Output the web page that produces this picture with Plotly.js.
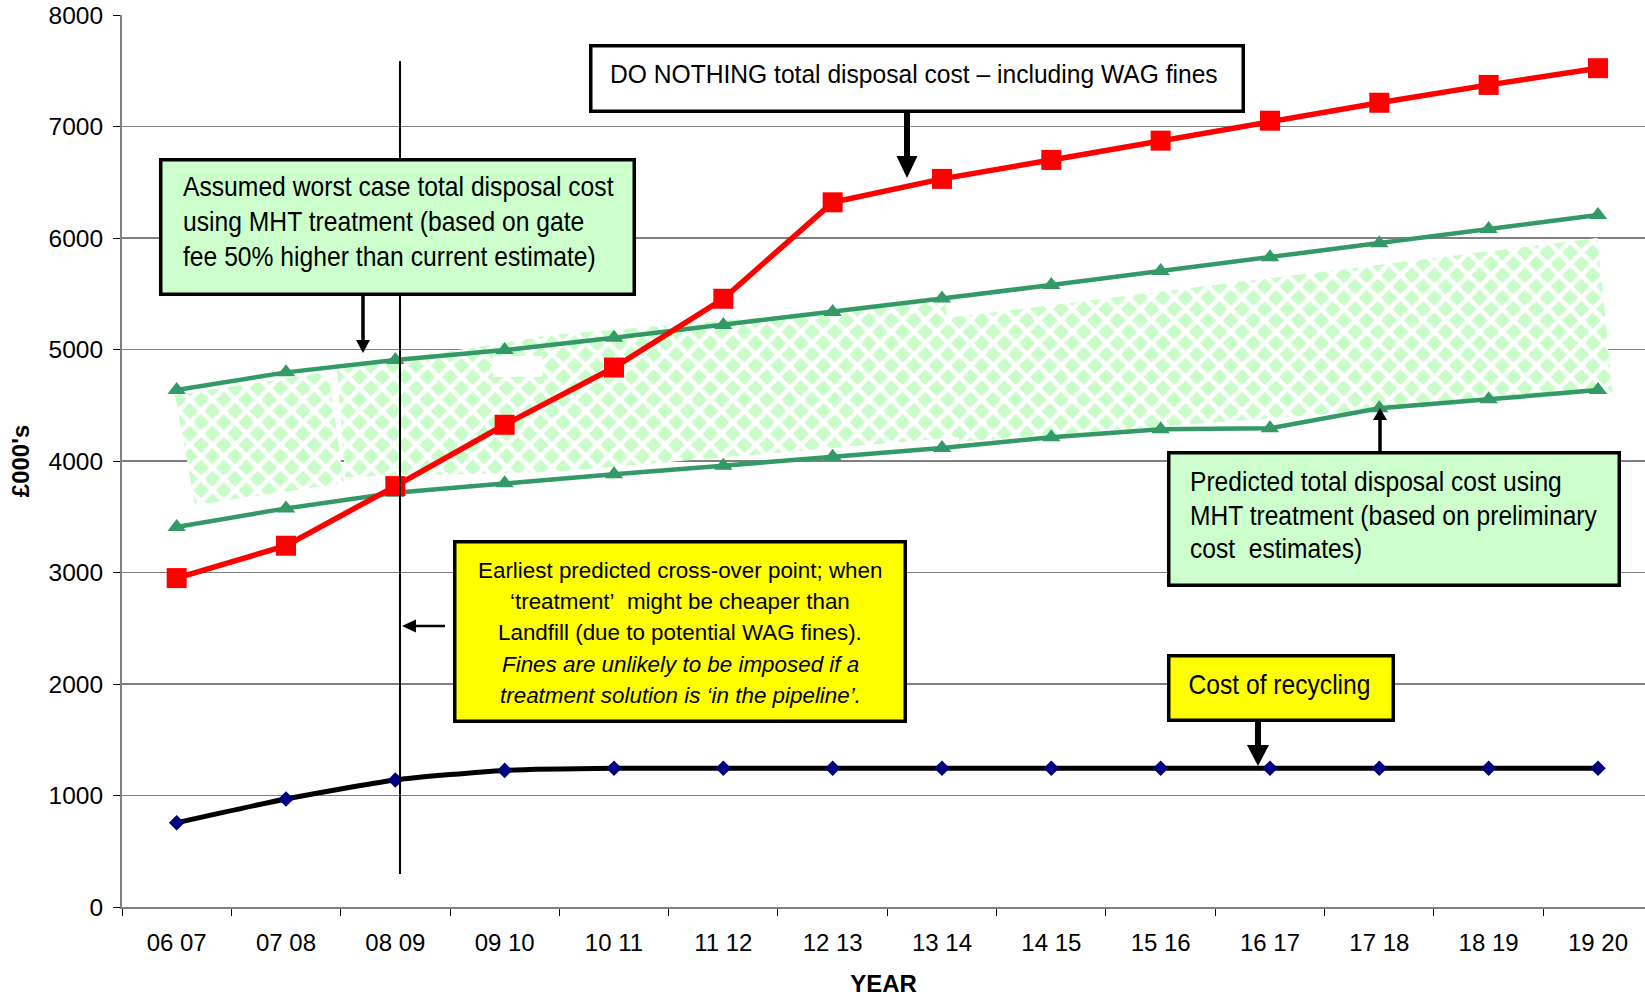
<!DOCTYPE html>
<html>
<head>
<meta charset="utf-8">
<script src="https://cdn.plot.ly/plotly-3.0.1.min.js"></script>
<style>html,body{margin:0;padding:0;background:#fff;}#chart{width:1645px;height:1000px;}</style>
</head>
<body>
<div id="chart"></div>
<script>
// ---------- data ----------
const categories = ["06 07","07 08","08 09","09 10","10 11","11 12","12 13","13 14","14 15","15 16","16 17","17 18","18 19","19 20"];
const doNothing  = [2950, 3240, 3775, 4325, 4838, 5455, 6320, 6530, 6700, 6873, 7052, 7213, 7373, 7523];
const worstCase  = [4637, 4795, 4905, 4995, 5105, 5220, 5337, 5458, 5578, 5704, 5827, 5952, 6081, 6206];
const predicted  = [3408, 3575, 3715, 3800, 3882, 3958, 4039, 4117, 4212, 4284, 4293, 4473, 4553, 4637];
const recycling  = [756, 969, 1139, 1225, 1244, 1244, 1244, 1244, 1244, 1244, 1244, 1244, 1244, 1244];
const yTicks = [0,1000,2000,3000,4000,5000,6000,7000,8000];

// hatched "range" band, drawn as free-hand pieces (x in category index, y in £000's)
const bandA_x = [-0.015, 1.385, 1.531, 0.168];
const bandA_y = [4592, 4798, 3803, 3606];
const bandB_x = [1.467, 3.324, 3.443, 1.540];
const bandB_y = [4825, 5112, 3902, 3857];
const bandC_x = [3.324, 7.030, 7.167, 3.443];
const bandC_y = [5121, 5426, 4215, 3902];
const bandD_x = [7.048, 12.995, 13.132, 7.158];
const bandD_y = [5283, 6000, 4619, 4171];
const gap_x = [2.894, 3.343, 3.343, 2.894];
const gap_y = [4942, 4942, 4754, 4754];

// annotation texts
const box1Lines = ['Assumed worst case total disposal cost', 'using MHT treatment (based on gate', 'fee 50% higher than current estimate)'];
const box2Lines = ['DO NOTHING total disposal cost \u2013 including WAG fines'];
const box3Lines = ['Earliest predicted cross-over point; when', '\u2018treatment\u2019&nbsp; might be cheaper than', 'Landfill (due to potential WAG fines).',
                   '<i>Fines are unlikely to be imposed if a</i>', '<i>treatment solution is \u2018in the pipeline\u2019.</i>'];
const box4Lines = ['Predicted total disposal cost using', 'MHT treatment (based on preliminary', 'cost&nbsp; estimates)'];
const box5Lines = ['Cost of recycling'];

const xIdx = categories.map((_, i) => i);
const boundaries = categories.map((_, i) => i - 0.5).concat([categories.length - 0.5]);

const arial = '"Liberation Sans", Arial, sans-serif';

function close(a){ return a.concat([a[0]]); }
const hatch = {shape:'x', fgcolor:'#ffffff', bgcolor:'#c8fcc8', size:16, solidity:0.5};
function bandTrace(xs, ys, white){
  const t = {x: close(xs), y: close(ys), mode:'lines', fill:'toself', line:{width:0, color:'rgba(0,0,0,0)'},
             hoverinfo:'skip', showlegend:false};
  if (white) t.fillcolor = '#ffffff'; else { t.fillcolor = '#c8fcc8'; t.fillpattern = hatch; }
  return t;
}

const traces = [
  bandTrace(bandA_x, bandA_y), bandTrace(bandB_x, bandB_y), bandTrace(bandC_x, bandC_y),
  bandTrace(bandD_x, bandD_y), bandTrace(gap_x, gap_y, true),
  {x:xIdx, y:worstCase, mode:'lines+markers', name:'Worst case MHT', line:{color:'#339966', width:4.5},
   marker:{symbol:'triangle-up', size:16, color:'#339966'}},
  {x:xIdx, y:predicted, mode:'lines+markers', name:'Predicted MHT', line:{color:'#339966', width:4.5},
   marker:{symbol:'triangle-up', size:16, color:'#339966'}},
  {x:xIdx, y:recycling, mode:'lines+markers', name:'Recycling', line:{color:'#000000', width:5, shape:'spline', smoothing:0.6},
   marker:{symbol:'diamond', size:12, color:'#000080'}},
  {x:xIdx, y:doNothing, mode:'lines+markers', name:'Do nothing', line:{color:'#ff0000', width:5.5},
   marker:{symbol:'square', size:20, color:'#ff0000'}}
];

// ---------- geometry helpers (pixel -> data for decorations) ----------
const W = 1645, H = 1000, mL = 122, mR = 0, mT = 15, mB = 93;
const xRange = [-0.5, 13.43], yRange = [0, 8000];
const xPerPx = (xRange[1]-xRange[0])/(W-mL-mR);
const yPerPx = (yRange[1]-yRange[0])/(H-mT-mB);
const px2x = p => xRange[0] + (p - mL)*xPerPx;
const px2y = p => yRange[1] - (p - mT)*yPerPx;

const shapes = [];
// cross-over marker line
shapes.push({type:'line', xref:'x', yref:'y', x0:px2x(400), x1:px2x(400), y0:px2y(874), y1:px2y(61), line:{color:'#000', width:2}, layer:'above'});

// text boxes (pixel extents incl. border)
const boxes = [
  {l:159, t:158, r:636, b:296, fill:'#ccffcc'},
  {l:589, t:44, r:1245, b:113, fill:'#ffffff'},
  {l:453, t:540, r:907, b:723, fill:'#ffff00'},
  {l:1167, t:451, r:1621, b:587, fill:'#ccffcc'},
  {l:1167, t:654, r:1395, b:722, fill:'#ffff00'}
];
const bw = 3.5;
boxes.forEach(b => shapes.push({type:'rect', xref:'x', yref:'y',
  x0:px2x(b.l + bw/2), x1:px2x(b.r - bw/2), y0:px2y(b.b - bw/2), y1:px2y(b.t + bw/2),
  fillcolor:b.fill, line:{color:'#000', width:bw}, layer:'above'}));

// arrows: tail, tip (pixels), head width/length (px), stem width (px)
const arrows = [
  {x0:363, y0:296, x1:363, y1:353, hw:14, hl:13, sw:3.5},
  {x0:907, y0:113, x1:907, y1:178, hw:21, hl:22, sw:6},
  {x0:1258, y0:722, x1:1258, y1:766, hw:22, hl:21, sw:6},
  {x0:1380, y0:451, x1:1380, y1:408, hw:14, hl:12, sw:3.5},
  {x0:445, y0:626, x1:402, y1:626, hw:13, hl:14, sw:2.5}
];
arrows.forEach(a => {
  const dx = a.x1-a.x0, dy = a.y1-a.y0; // screen px (y down)
  const len = Math.hypot(dx, dy), ux = dx/len, uy = dy/len;
  const bx = a.x1 - ux*(a.hl-1), by = a.y1 - uy*(a.hl-1);
  shapes.push({type:'line', xref:'x', yref:'y', x0:px2x(a.x0), y0:px2y(a.y0), x1:px2x(bx), y1:px2y(by), line:{color:'#000', width:a.sw}, layer:'above'});
  // triangle in pixel units around tip (pixel sizemode: y positive up)
  const ux2 = ux, uy2 = -uy;
  const pxp = -uy2, pyp = ux2;
  const b1x = -ux2*a.hl + pxp*a.hw/2, b1y = -uy2*a.hl + pyp*a.hw/2;
  const b2x = -ux2*a.hl - pxp*a.hw/2, b2y = -uy2*a.hl - pyp*a.hw/2;
  shapes.push({type:'path', xref:'x', yref:'y', xsizemode:'pixel', ysizemode:'pixel', xanchor:px2x(a.x1), yanchor:px2y(a.y1),
    path:`M0,0 L${b1x.toFixed(2)},${b1y.toFixed(2)} L${b2x.toFixed(2)},${b2y.toFixed(2)} Z`,
    fillcolor:'#000', line:{width:0}, layer:'above'});
});

// text groups: anchor x (px), first baseline (px), line gap (px), font size, align, reference line & its width (px)
const textGroups = [
  {lines:box1Lines, x:181,  base:196.7, gap:35,   size:27,   align:'left',   ref:0, width:431},
  {lines:box2Lines, x:914,  base:83.3,  gap:0,    size:25.5, align:'center', ref:0, width:608},
  {lines:box3Lines, x:680,  base:578.3, gap:31.3, size:22.4, align:'center', ref:0, width:407},
  {lines:box4Lines, x:1188, base:491.7, gap:33.3, size:28,   align:'left',   ref:1, width:407},
  {lines:box5Lines, x:1279, base:694,   gap:0,    size:28,   align:'center', ref:0, width:182}
];
const annotations = [];
textGroups.forEach(g => {
  g.start = annotations.length;
  g.lines.forEach((ln, i) => {
    const mid = g.base + i*g.gap - 0.355*g.size;
    annotations.push({x:px2x(g.x), y:px2y(mid), xref:'x', yref:'y', xanchor:g.align, yanchor:'middle', align:g.align,
      showarrow:false, text:ln, font:{family:arial, size:g.size, color:'#000'}});
  });
});

const layout = {
  width:W, height:H,
  margin:{l:mL, r:mR, t:mT, b:mB, pad:0},
  paper_bgcolor:'#ffffff', plot_bgcolor:'#ffffff',
  showlegend:false,
  font:{family:arial, color:'#000'},
  xaxis:{type:'linear', range:xRange, tickmode:'array', tickvals:xIdx, ticktext:categories, ticks:'',
    showgrid:false, zeroline:false, showline:true, linecolor:'#808080', linewidth:2,
    tickfont:{family:arial, size:24, color:'#000'}, ticklabelstandoff:13,
    minor:{tickmode:'array', tickvals:boundaries, ticks:'outside', ticklen:7, tickwidth:1, tickcolor:'#000', showgrid:false},
    title:{text:'<b>YEAR</b>', font:{family:arial, size:24, color:'#000'}, standoff:20}},
  yaxis:{range:yRange, tickmode:'array', tickvals:yTicks, ticks:'outside', ticklen:7, tickwidth:1, tickcolor:'#000',
    showgrid:true, gridcolor:'#808080', gridwidth:1.5, zeroline:false, showline:true, linecolor:'#808080', linewidth:2,
    tickfont:{family:arial, size:24.5, color:'#000'}, ticklabelstandoff:5,
    title:{text:'<b>\u00a3000\'s</b>', font:{family:arial, size:24, color:'#000'}, standoff:12}},
  shapes:shapes,
  annotations:annotations
};

Plotly.newPlot('chart', traces, layout, {staticPlot:true, displayModeBar:false}).then(gd => {
  // condense the box texts horizontally (the original uses a narrow typeface)
  const texts = Array.from(gd.querySelectorAll('g.annotation')).map(g => g.querySelector('text.annotation-text'));
  textGroups.forEach(g => {
    const refEl = texts[g.start + g.ref];
    if (!refEl) return;
    const s = Math.min(1, g.width / refEl.getBBox().width);
    g.lines.forEach((_, i) => {
      const el = texts[g.start + i];
      if (!el) return;
      const bb = el.getBBox();
      const ax = g.align === 'left' ? bb.x : bb.x + bb.width/2;
      el.setAttribute('transform', `translate(${ax},0) scale(${s},1) translate(${-ax},0)`);
    });
  });
});
</script>
</body>
</html>
